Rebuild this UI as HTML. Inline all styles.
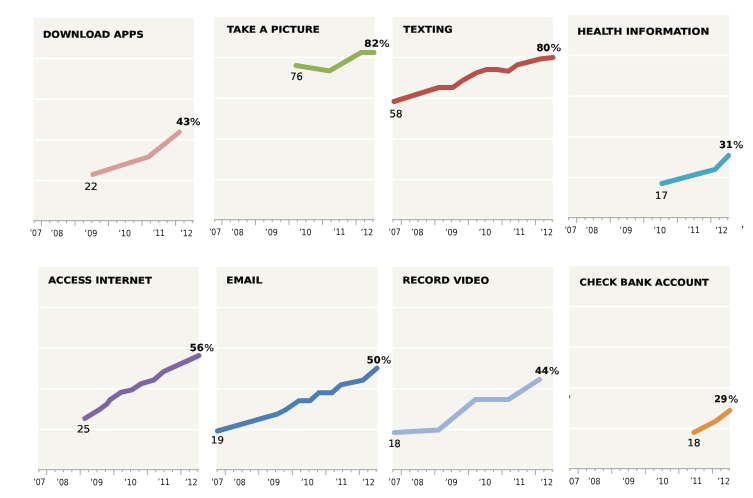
<!DOCTYPE html>
<html><head><meta charset="utf-8"><title>Cellphone activities</title>
<style>
html,body{margin:0;padding:0;background:#fff;}
body{width:753px;height:498px;overflow:hidden;}
svg{display:block;}
text{font-family:"DejaVu Sans","Liberation Sans",sans-serif;}
</style></head><body>
<svg width="753" height="498" viewBox="0 0 753 498">

<g>
<rect x="33.6" y="18.0" width="160.45" height="202.3" fill="#f5f4ef"/>
<rect x="33.6" y="57.60" width="160.45" height="1.7" fill="#fff" fill-opacity="0.95"/>
<rect x="33.6" y="98.30" width="160.45" height="1.7" fill="#fff" fill-opacity="0.95"/>
<rect x="33.6" y="139.00" width="160.45" height="1.7" fill="#fff" fill-opacity="0.95"/>
<rect x="33.6" y="179.70" width="160.45" height="1.7" fill="#fff" fill-opacity="0.95"/>
<rect x="33.6" y="220.10" width="160.45" height="1.1" fill="#aaaaa7"/>
<rect x="33.60" y="220.10" width="1" height="3.1" fill="#aaaaa7"/>
<rect x="40.90" y="220.10" width="1" height="6.0" fill="#aaaaa7"/>
<rect x="49.29" y="220.10" width="1" height="3.1" fill="#aaaaa7"/>
<rect x="57.67" y="220.10" width="1" height="3.1" fill="#aaaaa7"/>
<rect x="66.06" y="220.10" width="1" height="3.1" fill="#aaaaa7"/>
<rect x="74.45" y="220.10" width="1" height="6.0" fill="#aaaaa7"/>
<rect x="82.84" y="220.10" width="1" height="3.1" fill="#aaaaa7"/>
<rect x="91.23" y="220.10" width="1" height="3.1" fill="#aaaaa7"/>
<rect x="99.61" y="220.10" width="1" height="3.1" fill="#aaaaa7"/>
<rect x="108.00" y="220.10" width="1" height="6.0" fill="#aaaaa7"/>
<rect x="116.39" y="220.10" width="1" height="3.1" fill="#aaaaa7"/>
<rect x="124.78" y="220.10" width="1" height="3.1" fill="#aaaaa7"/>
<rect x="133.16" y="220.10" width="1" height="3.1" fill="#aaaaa7"/>
<rect x="141.55" y="220.10" width="1" height="6.0" fill="#aaaaa7"/>
<rect x="149.94" y="220.10" width="1" height="3.1" fill="#aaaaa7"/>
<rect x="158.32" y="220.10" width="1" height="3.1" fill="#aaaaa7"/>
<rect x="166.71" y="220.10" width="1" height="3.1" fill="#aaaaa7"/>
<rect x="175.10" y="220.10" width="1" height="6.0" fill="#aaaaa7"/>
<rect x="183.49" y="220.10" width="1" height="3.1" fill="#aaaaa7"/>
<rect x="191.87" y="220.10" width="1" height="3.1" fill="#aaaaa7"/>
<text style="font-size:8.8px;fill:#111" transform="translate(29.63 236.20) rotate(0.03) scale(0.874 1)">’07</text>
<text style="font-size:8.8px;fill:#111" transform="translate(50.72 236.20) rotate(0.03) scale(0.883 1)">’08</text>
<text style="font-size:8.8px;fill:#111" transform="translate(84.59 236.20) rotate(0.03) scale(0.909 1)">’09</text>
<text style="font-size:8.8px;fill:#111" transform="translate(118.40 236.20) rotate(0.03) scale(0.899 1)">’10</text>
<text style="font-size:8.8px;fill:#111" transform="translate(152.74 236.20) rotate(0.03) scale(0.856 1)">’11</text>
<text style="font-size:8.8px;fill:#111" transform="translate(180.31 236.20) rotate(0.03) scale(0.893 1)">’12</text>
<text style="font-weight:bold;font-size:9.6px;stroke:#000;stroke-width:0.2px;fill:#000" transform="translate(42.95 37.70) rotate(0.03) scale(1.055 1)">DOWNLOAD APPS</text>
<polyline points="92.9,174.4 148.6,156.8 179.4,132.1" fill="none" stroke="#d89d9b" stroke-width="5" stroke-linecap="round" stroke-linejoin="miter"/>
<text style="font-size:10.1px;fill:#000;stroke:#000;stroke-width:0.18px" transform="translate(84.43 190.10) rotate(0.03) scale(1.023 1)">22</text>
<text style="font-weight:bold;font-size:9.7px;stroke:#000;stroke-width:0.15px;fill:#000" transform="translate(176.20 125.00) rotate(0.03) scale(1.029 1)">43</text>
<text style="font-size:9.3px;fill:#000;stroke:#000;stroke-width:0.15px" transform="translate(190.01 125.00) rotate(0.03) scale(1.201 1)">%</text>
</g>
<g>
<rect x="214.1" y="17.05" width="160.40" height="202.3" fill="#f5f4ef"/>
<rect x="214.1" y="56.65" width="160.40" height="1.7" fill="#fff" fill-opacity="0.95"/>
<rect x="214.1" y="97.35" width="160.40" height="1.7" fill="#fff" fill-opacity="0.95"/>
<rect x="214.1" y="138.05" width="160.40" height="1.7" fill="#fff" fill-opacity="0.95"/>
<rect x="214.1" y="178.75" width="160.40" height="1.7" fill="#fff" fill-opacity="0.95"/>
<rect x="214.1" y="219.15" width="160.40" height="1.1" fill="#aaaaa7"/>
<rect x="214.10" y="219.15" width="1" height="3.1" fill="#aaaaa7"/>
<rect x="221.40" y="219.15" width="1" height="6.0" fill="#aaaaa7"/>
<rect x="229.79" y="219.15" width="1" height="3.1" fill="#aaaaa7"/>
<rect x="238.17" y="219.15" width="1" height="3.1" fill="#aaaaa7"/>
<rect x="246.56" y="219.15" width="1" height="3.1" fill="#aaaaa7"/>
<rect x="254.95" y="219.15" width="1" height="6.0" fill="#aaaaa7"/>
<rect x="263.34" y="219.15" width="1" height="3.1" fill="#aaaaa7"/>
<rect x="271.72" y="219.15" width="1" height="3.1" fill="#aaaaa7"/>
<rect x="280.11" y="219.15" width="1" height="3.1" fill="#aaaaa7"/>
<rect x="288.50" y="219.15" width="1" height="6.0" fill="#aaaaa7"/>
<rect x="296.89" y="219.15" width="1" height="3.1" fill="#aaaaa7"/>
<rect x="305.27" y="219.15" width="1" height="3.1" fill="#aaaaa7"/>
<rect x="313.66" y="219.15" width="1" height="3.1" fill="#aaaaa7"/>
<rect x="322.05" y="219.15" width="1" height="6.0" fill="#aaaaa7"/>
<rect x="330.44" y="219.15" width="1" height="3.1" fill="#aaaaa7"/>
<rect x="338.82" y="219.15" width="1" height="3.1" fill="#aaaaa7"/>
<rect x="347.21" y="219.15" width="1" height="3.1" fill="#aaaaa7"/>
<rect x="355.60" y="219.15" width="1" height="6.0" fill="#aaaaa7"/>
<rect x="363.99" y="219.15" width="1" height="3.1" fill="#aaaaa7"/>
<rect x="372.37" y="219.15" width="1" height="3.1" fill="#aaaaa7"/>
<text style="font-size:8.8px;fill:#111" transform="translate(208.93 235.25) rotate(0.03) scale(0.874 1)">’07</text>
<text style="font-size:8.8px;fill:#111" transform="translate(231.22 235.25) rotate(0.03) scale(0.883 1)">’08</text>
<text style="font-size:8.8px;fill:#111" transform="translate(265.09 235.25) rotate(0.03) scale(0.909 1)">’09</text>
<text style="font-size:8.8px;fill:#111" transform="translate(298.90 235.25) rotate(0.03) scale(0.899 1)">’10</text>
<text style="font-size:8.8px;fill:#111" transform="translate(333.24 235.25) rotate(0.03) scale(0.856 1)">’11</text>
<text style="font-size:8.8px;fill:#111" transform="translate(360.81 235.25) rotate(0.03) scale(0.893 1)">’12</text>
<text style="font-weight:bold;font-size:9.6px;stroke:#000;stroke-width:0.2px;fill:#000" transform="translate(227.10 32.80) rotate(0.03) scale(1.063 1)">TAKE A PICTURE</text>
<polyline points="296,65.5 329.5,71 361,52.5 374,52.5" fill="none" stroke="#94b15a" stroke-width="5" stroke-linecap="round" stroke-linejoin="miter"/>
<text style="font-size:10.1px;fill:#000;stroke:#000;stroke-width:0.18px" transform="translate(290.36 80.00) rotate(0.03) scale(0.973 1)">76</text>
<text style="font-weight:bold;font-size:9.7px;stroke:#000;stroke-width:0.15px;fill:#000" transform="translate(364.36 46.70) rotate(0.03) scale(1.080 1)">82</text>
<text style="font-size:9.3px;fill:#000;stroke:#000;stroke-width:0.15px" transform="translate(378.90 46.70) rotate(0.03) scale(1.213 1)">%</text>
</g>
<g>
<rect x="392.5" y="17.05" width="160.40" height="202.3" fill="#f5f4ef"/>
<rect x="392.5" y="56.65" width="160.40" height="1.7" fill="#fff" fill-opacity="0.95"/>
<rect x="392.5" y="97.35" width="160.40" height="1.7" fill="#fff" fill-opacity="0.95"/>
<rect x="392.5" y="138.05" width="160.40" height="1.7" fill="#fff" fill-opacity="0.95"/>
<rect x="392.5" y="178.75" width="160.40" height="1.7" fill="#fff" fill-opacity="0.95"/>
<rect x="392.5" y="219.15" width="160.40" height="1.1" fill="#aaaaa7"/>
<rect x="392.50" y="219.15" width="1" height="3.1" fill="#aaaaa7"/>
<rect x="400.80" y="219.15" width="1" height="6.0" fill="#aaaaa7"/>
<rect x="409.19" y="219.15" width="1" height="3.1" fill="#aaaaa7"/>
<rect x="417.57" y="219.15" width="1" height="3.1" fill="#aaaaa7"/>
<rect x="425.96" y="219.15" width="1" height="3.1" fill="#aaaaa7"/>
<rect x="434.35" y="219.15" width="1" height="6.0" fill="#aaaaa7"/>
<rect x="442.74" y="219.15" width="1" height="3.1" fill="#aaaaa7"/>
<rect x="451.12" y="219.15" width="1" height="3.1" fill="#aaaaa7"/>
<rect x="459.51" y="219.15" width="1" height="3.1" fill="#aaaaa7"/>
<rect x="467.90" y="219.15" width="1" height="6.0" fill="#aaaaa7"/>
<rect x="476.29" y="219.15" width="1" height="3.1" fill="#aaaaa7"/>
<rect x="484.67" y="219.15" width="1" height="3.1" fill="#aaaaa7"/>
<rect x="493.06" y="219.15" width="1" height="3.1" fill="#aaaaa7"/>
<rect x="501.45" y="219.15" width="1" height="6.0" fill="#aaaaa7"/>
<rect x="509.84" y="219.15" width="1" height="3.1" fill="#aaaaa7"/>
<rect x="518.22" y="219.15" width="1" height="3.1" fill="#aaaaa7"/>
<rect x="526.61" y="219.15" width="1" height="3.1" fill="#aaaaa7"/>
<rect x="535.00" y="219.15" width="1" height="6.0" fill="#aaaaa7"/>
<rect x="543.39" y="219.15" width="1" height="3.1" fill="#aaaaa7"/>
<rect x="551.78" y="219.15" width="1" height="3.1" fill="#aaaaa7"/>
<text style="font-size:8.8px;fill:#111" transform="translate(388.53 235.25) rotate(0.03) scale(0.874 1)">’07</text>
<text style="font-size:8.8px;fill:#111" transform="translate(411.12 235.25) rotate(0.03) scale(0.883 1)">’08</text>
<text style="font-size:8.8px;fill:#111" transform="translate(444.89 235.25) rotate(0.03) scale(0.909 1)">’09</text>
<text style="font-size:8.8px;fill:#111" transform="translate(478.70 235.25) rotate(0.03) scale(0.899 1)">’10</text>
<text style="font-size:8.8px;fill:#111" transform="translate(513.04 235.25) rotate(0.03) scale(0.856 1)">’11</text>
<text style="font-size:8.8px;fill:#111" transform="translate(540.41 235.25) rotate(0.03) scale(0.893 1)">’12</text>
<text style="font-weight:bold;font-size:9.6px;stroke:#000;stroke-width:0.2px;fill:#000" transform="translate(403.30 32.80) rotate(0.03) scale(1.061 1)">TEXTING</text>
<polyline points="394,101.5 438.6,87.5 452.8,87.5 462.5,80.5 476,73 486.6,69.5 497,69.5 508.4,71.2 517.4,64.8 540,59 553,57.5" fill="none" stroke="#b9514b" stroke-width="5" stroke-linecap="round" stroke-linejoin="miter"/>
<text style="font-size:10.1px;fill:#000;stroke:#000;stroke-width:0.18px" transform="translate(389.48 117.30) rotate(0.03) scale(1.007 1)">58</text>
<text style="font-weight:bold;font-size:9.7px;stroke:#000;stroke-width:0.15px;fill:#000" transform="translate(536.38 50.90) rotate(0.03) scale(1.032 1)">80</text>
<text style="font-size:9.3px;fill:#000;stroke:#000;stroke-width:0.15px" transform="translate(550.50 50.90) rotate(0.03) scale(1.225 1)">%</text>
</g>
<g>
<rect x="568.1" y="15.0" width="160.95" height="202.3" fill="#f5f4ef"/>
<rect x="568.1" y="54.60" width="160.95" height="1.7" fill="#fff" fill-opacity="0.95"/>
<rect x="568.1" y="95.30" width="160.95" height="1.7" fill="#fff" fill-opacity="0.95"/>
<rect x="568.1" y="136.00" width="160.95" height="1.7" fill="#fff" fill-opacity="0.95"/>
<rect x="568.1" y="176.70" width="160.95" height="1.7" fill="#fff" fill-opacity="0.95"/>
<rect x="568.1" y="217.10" width="160.95" height="1.1" fill="#aaaaa7"/>
<rect x="568.10" y="217.10" width="1" height="3.1" fill="#aaaaa7"/>
<rect x="576.20" y="217.10" width="1" height="6.0" fill="#aaaaa7"/>
<rect x="584.59" y="217.10" width="1" height="3.1" fill="#aaaaa7"/>
<rect x="592.98" y="217.10" width="1" height="3.1" fill="#aaaaa7"/>
<rect x="601.36" y="217.10" width="1" height="3.1" fill="#aaaaa7"/>
<rect x="609.75" y="217.10" width="1" height="6.0" fill="#aaaaa7"/>
<rect x="618.14" y="217.10" width="1" height="3.1" fill="#aaaaa7"/>
<rect x="626.53" y="217.10" width="1" height="3.1" fill="#aaaaa7"/>
<rect x="634.91" y="217.10" width="1" height="3.1" fill="#aaaaa7"/>
<rect x="643.30" y="217.10" width="1" height="6.0" fill="#aaaaa7"/>
<rect x="651.69" y="217.10" width="1" height="3.1" fill="#aaaaa7"/>
<rect x="660.08" y="217.10" width="1" height="3.1" fill="#aaaaa7"/>
<rect x="668.46" y="217.10" width="1" height="3.1" fill="#aaaaa7"/>
<rect x="676.85" y="217.10" width="1" height="6.0" fill="#aaaaa7"/>
<rect x="685.24" y="217.10" width="1" height="3.1" fill="#aaaaa7"/>
<rect x="693.63" y="217.10" width="1" height="3.1" fill="#aaaaa7"/>
<rect x="702.01" y="217.10" width="1" height="3.1" fill="#aaaaa7"/>
<rect x="710.40" y="217.10" width="1" height="6.0" fill="#aaaaa7"/>
<rect x="718.79" y="217.10" width="1" height="3.1" fill="#aaaaa7"/>
<rect x="727.18" y="217.10" width="1" height="3.1" fill="#aaaaa7"/>
<text style="font-size:8.8px;fill:#111" transform="translate(564.43 233.20) rotate(0.03) scale(0.874 1)">’07</text>
<text style="font-size:8.8px;fill:#111" transform="translate(585.72 233.20) rotate(0.03) scale(0.883 1)">’08</text>
<text style="font-size:8.8px;fill:#111" transform="translate(619.59 233.20) rotate(0.03) scale(0.909 1)">’09</text>
<text style="font-size:8.8px;fill:#111" transform="translate(653.40 233.20) rotate(0.03) scale(0.899 1)">’10</text>
<text style="font-size:8.8px;fill:#111" transform="translate(687.74 233.20) rotate(0.03) scale(0.856 1)">’11</text>
<text style="font-size:8.8px;fill:#111" transform="translate(715.31 233.20) rotate(0.03) scale(0.893 1)">’12</text>
<text style="font-weight:bold;font-size:9.6px;stroke:#000;stroke-width:0.2px;fill:#000" transform="translate(577.34 34.80) rotate(0.03) scale(1.093 1)">HEALTH INFORMATION</text>
<polyline points="662,183.5 714.9,169.4 728.6,155.5" fill="none" stroke="#4aa6c0" stroke-width="5" stroke-linecap="round" stroke-linejoin="miter"/>
<text style="font-size:10.1px;fill:#000;stroke:#000;stroke-width:0.18px" transform="translate(655.09 199.10) rotate(0.03) scale(1.009 1)">17</text>
<text style="font-weight:bold;font-size:9.7px;stroke:#000;stroke-width:0.15px;fill:#000" transform="translate(719.26 148.00) rotate(0.03) scale(0.996 1)">31</text>
<text style="font-size:9.3px;fill:#000;stroke:#000;stroke-width:0.15px" transform="translate(733.32 148.00) rotate(0.03) scale(1.152 1)">%</text>
</g>
<g>
<rect x="38.4" y="267.05" width="160.30" height="202.3" fill="#f5f4ef"/>
<rect x="38.4" y="306.65" width="160.30" height="1.7" fill="#fff" fill-opacity="0.95"/>
<rect x="38.4" y="347.35" width="160.30" height="1.7" fill="#fff" fill-opacity="0.95"/>
<rect x="38.4" y="388.05" width="160.30" height="1.7" fill="#fff" fill-opacity="0.95"/>
<rect x="38.4" y="428.75" width="160.30" height="1.7" fill="#fff" fill-opacity="0.95"/>
<rect x="38.4" y="469.15" width="160.30" height="1.1" fill="#aaaaa7"/>
<rect x="38.40" y="469.15" width="1" height="3.1" fill="#aaaaa7"/>
<rect x="46.20" y="469.15" width="1" height="6.0" fill="#aaaaa7"/>
<rect x="54.59" y="469.15" width="1" height="3.1" fill="#aaaaa7"/>
<rect x="62.97" y="469.15" width="1" height="3.1" fill="#aaaaa7"/>
<rect x="71.36" y="469.15" width="1" height="3.1" fill="#aaaaa7"/>
<rect x="79.75" y="469.15" width="1" height="6.0" fill="#aaaaa7"/>
<rect x="88.14" y="469.15" width="1" height="3.1" fill="#aaaaa7"/>
<rect x="96.53" y="469.15" width="1" height="3.1" fill="#aaaaa7"/>
<rect x="104.91" y="469.15" width="1" height="3.1" fill="#aaaaa7"/>
<rect x="113.30" y="469.15" width="1" height="6.0" fill="#aaaaa7"/>
<rect x="121.69" y="469.15" width="1" height="3.1" fill="#aaaaa7"/>
<rect x="130.08" y="469.15" width="1" height="3.1" fill="#aaaaa7"/>
<rect x="138.46" y="469.15" width="1" height="3.1" fill="#aaaaa7"/>
<rect x="146.85" y="469.15" width="1" height="6.0" fill="#aaaaa7"/>
<rect x="155.24" y="469.15" width="1" height="3.1" fill="#aaaaa7"/>
<rect x="163.62" y="469.15" width="1" height="3.1" fill="#aaaaa7"/>
<rect x="172.01" y="469.15" width="1" height="3.1" fill="#aaaaa7"/>
<rect x="180.40" y="469.15" width="1" height="6.0" fill="#aaaaa7"/>
<rect x="188.79" y="469.15" width="1" height="3.1" fill="#aaaaa7"/>
<rect x="197.17" y="469.15" width="1" height="3.1" fill="#aaaaa7"/>
<text style="font-size:8.8px;fill:#111" transform="translate(33.23 485.25) rotate(0.03) scale(0.874 1)">’07</text>
<text style="font-size:8.8px;fill:#111" transform="translate(56.42 485.25) rotate(0.03) scale(0.883 1)">’08</text>
<text style="font-size:8.8px;fill:#111" transform="translate(90.29 485.25) rotate(0.03) scale(0.909 1)">’09</text>
<text style="font-size:8.8px;fill:#111" transform="translate(124.20 485.25) rotate(0.03) scale(0.899 1)">’10</text>
<text style="font-size:8.8px;fill:#111" transform="translate(157.84 485.25) rotate(0.03) scale(0.856 1)">’11</text>
<text style="font-size:8.8px;fill:#111" transform="translate(185.11 485.25) rotate(0.03) scale(0.893 1)">’12</text>
<text style="font-weight:bold;font-size:9.6px;stroke:#000;stroke-width:0.2px;fill:#000" transform="translate(48.20 283.60) rotate(0.03) scale(1.058 1)">ACCESS INTERNET</text>
<polyline points="84.9,418.4 98.9,409.9 106.9,403.9 109.9,399.9 120.9,392.4 131.9,389.9 140.9,383.9 153.9,379.9 163.9,371.4 198.9,355.6" fill="none" stroke="#7e66a1" stroke-width="5" stroke-linecap="round" stroke-linejoin="miter"/>
<text style="font-size:10.1px;fill:#000;stroke:#000;stroke-width:0.18px" transform="translate(76.92 432.50) rotate(0.03) scale(1.040 1)">25</text>
<text style="font-weight:bold;font-size:9.7px;stroke:#000;stroke-width:0.15px;fill:#000" transform="translate(189.63 350.90) rotate(0.03) scale(1.043 1)">56</text>
<text style="font-size:9.3px;fill:#000;stroke:#000;stroke-width:0.15px" transform="translate(204.33 350.90) rotate(0.03) scale(1.115 1)">%</text>
</g>
<g>
<rect x="216.6" y="267.05" width="160.80" height="202.3" fill="#f5f4ef"/>
<rect x="216.6" y="306.65" width="160.80" height="1.7" fill="#fff" fill-opacity="0.95"/>
<rect x="216.6" y="347.35" width="160.80" height="1.7" fill="#fff" fill-opacity="0.95"/>
<rect x="216.6" y="388.05" width="160.80" height="1.7" fill="#fff" fill-opacity="0.95"/>
<rect x="216.6" y="428.75" width="160.80" height="1.7" fill="#fff" fill-opacity="0.95"/>
<rect x="216.6" y="469.15" width="160.80" height="1.1" fill="#aaaaa7"/>
<rect x="216.60" y="469.15" width="1" height="3.1" fill="#aaaaa7"/>
<rect x="224.70" y="469.15" width="1" height="6.0" fill="#aaaaa7"/>
<rect x="233.09" y="469.15" width="1" height="3.1" fill="#aaaaa7"/>
<rect x="241.47" y="469.15" width="1" height="3.1" fill="#aaaaa7"/>
<rect x="249.86" y="469.15" width="1" height="3.1" fill="#aaaaa7"/>
<rect x="258.25" y="469.15" width="1" height="6.0" fill="#aaaaa7"/>
<rect x="266.64" y="469.15" width="1" height="3.1" fill="#aaaaa7"/>
<rect x="275.02" y="469.15" width="1" height="3.1" fill="#aaaaa7"/>
<rect x="283.41" y="469.15" width="1" height="3.1" fill="#aaaaa7"/>
<rect x="291.80" y="469.15" width="1" height="6.0" fill="#aaaaa7"/>
<rect x="300.19" y="469.15" width="1" height="3.1" fill="#aaaaa7"/>
<rect x="308.57" y="469.15" width="1" height="3.1" fill="#aaaaa7"/>
<rect x="316.96" y="469.15" width="1" height="3.1" fill="#aaaaa7"/>
<rect x="325.35" y="469.15" width="1" height="6.0" fill="#aaaaa7"/>
<rect x="333.74" y="469.15" width="1" height="3.1" fill="#aaaaa7"/>
<rect x="342.12" y="469.15" width="1" height="3.1" fill="#aaaaa7"/>
<rect x="350.51" y="469.15" width="1" height="3.1" fill="#aaaaa7"/>
<rect x="358.90" y="469.15" width="1" height="6.0" fill="#aaaaa7"/>
<rect x="367.29" y="469.15" width="1" height="3.1" fill="#aaaaa7"/>
<rect x="375.67" y="469.15" width="1" height="3.1" fill="#aaaaa7"/>
<text style="font-size:8.8px;fill:#111" transform="translate(211.13 485.25) rotate(0.03) scale(0.874 1)">’07</text>
<text style="font-size:8.8px;fill:#111" transform="translate(233.42 485.25) rotate(0.03) scale(0.883 1)">’08</text>
<text style="font-size:8.8px;fill:#111" transform="translate(267.29 485.25) rotate(0.03) scale(0.909 1)">’09</text>
<text style="font-size:8.8px;fill:#111" transform="translate(301.10 485.25) rotate(0.03) scale(0.899 1)">’10</text>
<text style="font-size:8.8px;fill:#111" transform="translate(335.44 485.25) rotate(0.03) scale(0.856 1)">’11</text>
<text style="font-size:8.8px;fill:#111" transform="translate(362.31 485.25) rotate(0.03) scale(0.893 1)">’12</text>
<text style="font-weight:bold;font-size:9.6px;stroke:#000;stroke-width:0.2px;fill:#000" transform="translate(226.24 283.60) rotate(0.03) scale(1.090 1)">EMAIL</text>
<polyline points="217.5,431 277,414.2 285,410.2 299,400.7 310,400.7 319,392.7 332,392.7 341,384.7 363,380.2 377,368.2" fill="none" stroke="#4c7eb5" stroke-width="5" stroke-linecap="round" stroke-linejoin="miter"/>
<text style="font-size:10.1px;fill:#000;stroke:#000;stroke-width:0.18px" transform="translate(211.10 443.60) rotate(0.03) scale(0.999 1)">19</text>
<text style="font-weight:bold;font-size:9.7px;stroke:#000;stroke-width:0.15px;fill:#000" transform="translate(366.85 363.20) rotate(0.03) scale(1.019 1)">50</text>
<text style="font-size:9.3px;fill:#000;stroke:#000;stroke-width:0.15px" transform="translate(380.91 363.20) rotate(0.03) scale(1.176 1)">%</text>
</g>
<g>
<rect x="392.5" y="267.05" width="160.60" height="202.3" fill="#f5f4ef"/>
<rect x="392.5" y="306.65" width="160.60" height="1.7" fill="#fff" fill-opacity="0.95"/>
<rect x="392.5" y="347.35" width="160.60" height="1.7" fill="#fff" fill-opacity="0.95"/>
<rect x="392.5" y="388.05" width="160.60" height="1.7" fill="#fff" fill-opacity="0.95"/>
<rect x="392.5" y="428.75" width="160.60" height="1.7" fill="#fff" fill-opacity="0.95"/>
<rect x="392.5" y="469.15" width="160.60" height="1.1" fill="#aaaaa7"/>
<rect x="392.50" y="469.15" width="1" height="3.1" fill="#aaaaa7"/>
<rect x="400.80" y="469.15" width="1" height="6.0" fill="#aaaaa7"/>
<rect x="409.19" y="469.15" width="1" height="3.1" fill="#aaaaa7"/>
<rect x="417.57" y="469.15" width="1" height="3.1" fill="#aaaaa7"/>
<rect x="425.96" y="469.15" width="1" height="3.1" fill="#aaaaa7"/>
<rect x="434.35" y="469.15" width="1" height="6.0" fill="#aaaaa7"/>
<rect x="442.74" y="469.15" width="1" height="3.1" fill="#aaaaa7"/>
<rect x="451.12" y="469.15" width="1" height="3.1" fill="#aaaaa7"/>
<rect x="459.51" y="469.15" width="1" height="3.1" fill="#aaaaa7"/>
<rect x="467.90" y="469.15" width="1" height="6.0" fill="#aaaaa7"/>
<rect x="476.29" y="469.15" width="1" height="3.1" fill="#aaaaa7"/>
<rect x="484.67" y="469.15" width="1" height="3.1" fill="#aaaaa7"/>
<rect x="493.06" y="469.15" width="1" height="3.1" fill="#aaaaa7"/>
<rect x="501.45" y="469.15" width="1" height="6.0" fill="#aaaaa7"/>
<rect x="509.84" y="469.15" width="1" height="3.1" fill="#aaaaa7"/>
<rect x="518.22" y="469.15" width="1" height="3.1" fill="#aaaaa7"/>
<rect x="526.61" y="469.15" width="1" height="3.1" fill="#aaaaa7"/>
<rect x="535.00" y="469.15" width="1" height="6.0" fill="#aaaaa7"/>
<rect x="543.39" y="469.15" width="1" height="3.1" fill="#aaaaa7"/>
<rect x="551.78" y="469.15" width="1" height="3.1" fill="#aaaaa7"/>
<text style="font-size:8.8px;fill:#111" transform="translate(388.53 485.25) rotate(0.03) scale(0.874 1)">’07</text>
<text style="font-size:8.8px;fill:#111" transform="translate(411.22 485.25) rotate(0.03) scale(0.883 1)">’08</text>
<text style="font-size:8.8px;fill:#111" transform="translate(444.99 485.25) rotate(0.03) scale(0.909 1)">’09</text>
<text style="font-size:8.8px;fill:#111" transform="translate(478.80 485.25) rotate(0.03) scale(0.899 1)">’10</text>
<text style="font-size:8.8px;fill:#111" transform="translate(513.14 485.25) rotate(0.03) scale(0.856 1)">’11</text>
<text style="font-size:8.8px;fill:#111" transform="translate(540.51 485.25) rotate(0.03) scale(0.893 1)">’12</text>
<text style="font-weight:bold;font-size:9.6px;stroke:#000;stroke-width:0.2px;fill:#000" transform="translate(402.45 283.60) rotate(0.03) scale(1.067 1)">RECORD VIDEO</text>
<polyline points="394.3,432.5 438.5,430.0 475.5,399.5 508.5,399.5 539.4,379.5" fill="none" stroke="#9cb2d7" stroke-width="5" stroke-linecap="round" stroke-linejoin="miter"/>
<text style="font-size:10.1px;fill:#000;stroke:#000;stroke-width:0.18px" transform="translate(388.45 447.10) rotate(0.03) scale(0.945 1)">18</text>
<text style="font-weight:bold;font-size:9.7px;stroke:#000;stroke-width:0.15px;fill:#000" transform="translate(534.91 374.10) rotate(0.03) scale(1.006 1)">44</text>
<text style="font-size:9.3px;fill:#000;stroke:#000;stroke-width:0.15px" transform="translate(549.11 374.10) rotate(0.03) scale(1.176 1)">%</text>
</g>
<g>
<rect x="569.3" y="266.0" width="160.70" height="202.3" fill="#f5f4ef"/>
<rect x="569.3" y="305.60" width="160.70" height="1.7" fill="#fff" fill-opacity="0.95"/>
<rect x="569.3" y="346.30" width="160.70" height="1.7" fill="#fff" fill-opacity="0.95"/>
<rect x="569.3" y="387.00" width="160.70" height="1.7" fill="#fff" fill-opacity="0.95"/>
<rect x="569.3" y="427.70" width="160.70" height="1.7" fill="#fff" fill-opacity="0.95"/>
<rect x="569.3" y="468.10" width="160.70" height="1.1" fill="#aaaaa7"/>
<rect x="569.30" y="468.10" width="1" height="3.1" fill="#aaaaa7"/>
<rect x="577.70" y="468.10" width="1" height="6.0" fill="#aaaaa7"/>
<rect x="586.09" y="468.10" width="1" height="3.1" fill="#aaaaa7"/>
<rect x="594.48" y="468.10" width="1" height="3.1" fill="#aaaaa7"/>
<rect x="602.86" y="468.10" width="1" height="3.1" fill="#aaaaa7"/>
<rect x="611.25" y="468.10" width="1" height="6.0" fill="#aaaaa7"/>
<rect x="619.64" y="468.10" width="1" height="3.1" fill="#aaaaa7"/>
<rect x="628.03" y="468.10" width="1" height="3.1" fill="#aaaaa7"/>
<rect x="636.41" y="468.10" width="1" height="3.1" fill="#aaaaa7"/>
<rect x="644.80" y="468.10" width="1" height="6.0" fill="#aaaaa7"/>
<rect x="653.19" y="468.10" width="1" height="3.1" fill="#aaaaa7"/>
<rect x="661.58" y="468.10" width="1" height="3.1" fill="#aaaaa7"/>
<rect x="669.96" y="468.10" width="1" height="3.1" fill="#aaaaa7"/>
<rect x="678.35" y="468.10" width="1" height="6.0" fill="#aaaaa7"/>
<rect x="686.74" y="468.10" width="1" height="3.1" fill="#aaaaa7"/>
<rect x="695.13" y="468.10" width="1" height="3.1" fill="#aaaaa7"/>
<rect x="703.51" y="468.10" width="1" height="3.1" fill="#aaaaa7"/>
<rect x="711.90" y="468.10" width="1" height="6.0" fill="#aaaaa7"/>
<rect x="720.29" y="468.10" width="1" height="3.1" fill="#aaaaa7"/>
<rect x="728.68" y="468.10" width="1" height="3.1" fill="#aaaaa7"/>
<text style="font-size:8.8px;fill:#111" transform="translate(569.00 484.20) rotate(0.03) scale(0.956 1)">07</text>
<text style="font-size:8.8px;fill:#111" transform="translate(588.12 484.20) rotate(0.03) scale(0.883 1)">’08</text>
<text style="font-size:8.8px;fill:#111" transform="translate(622.19 484.20) rotate(0.03) scale(0.909 1)">’09</text>
<text style="font-size:8.8px;fill:#111" transform="translate(656.00 484.20) rotate(0.03) scale(0.899 1)">’10</text>
<text style="font-size:8.8px;fill:#111" transform="translate(690.04 484.20) rotate(0.03) scale(0.856 1)">’11</text>
<text style="font-size:8.8px;fill:#111" transform="translate(717.51 484.20) rotate(0.03) scale(0.893 1)">’12</text>
<text style="font-weight:bold;font-size:9.6px;stroke:#000;stroke-width:0.2px;fill:#000" transform="translate(579.61 285.60) rotate(0.03) scale(1.034 1)">CHECK BANK ACCOUNT</text>
<polyline points="693.8,432.4 704,427.2 715.6,421.2 722,416.4 729.8,410.4" fill="none" stroke="#e19344" stroke-width="5" stroke-linecap="round" stroke-linejoin="miter"/>
<text style="font-size:10.1px;fill:#000;stroke:#000;stroke-width:0.18px" transform="translate(687.50 446.20) rotate(0.03) scale(0.998 1)">18</text>
<text style="font-weight:bold;font-size:9.7px;stroke:#000;stroke-width:0.15px;fill:#000" transform="translate(714.28 402.30) rotate(0.03) scale(0.971 1)">29</text>
<text style="font-size:9.3px;fill:#000;stroke:#000;stroke-width:0.15px" transform="translate(728.23 402.30) rotate(0.03) scale(1.139 1)">%</text>
</g>
<text style="font-size:8.8px;fill:#111;font-size:10px" x="741.0" y="234.2">’</text>
<rect x="569" y="395.2" width="1.2" height="3" fill="#777"/>
</svg></body></html>
